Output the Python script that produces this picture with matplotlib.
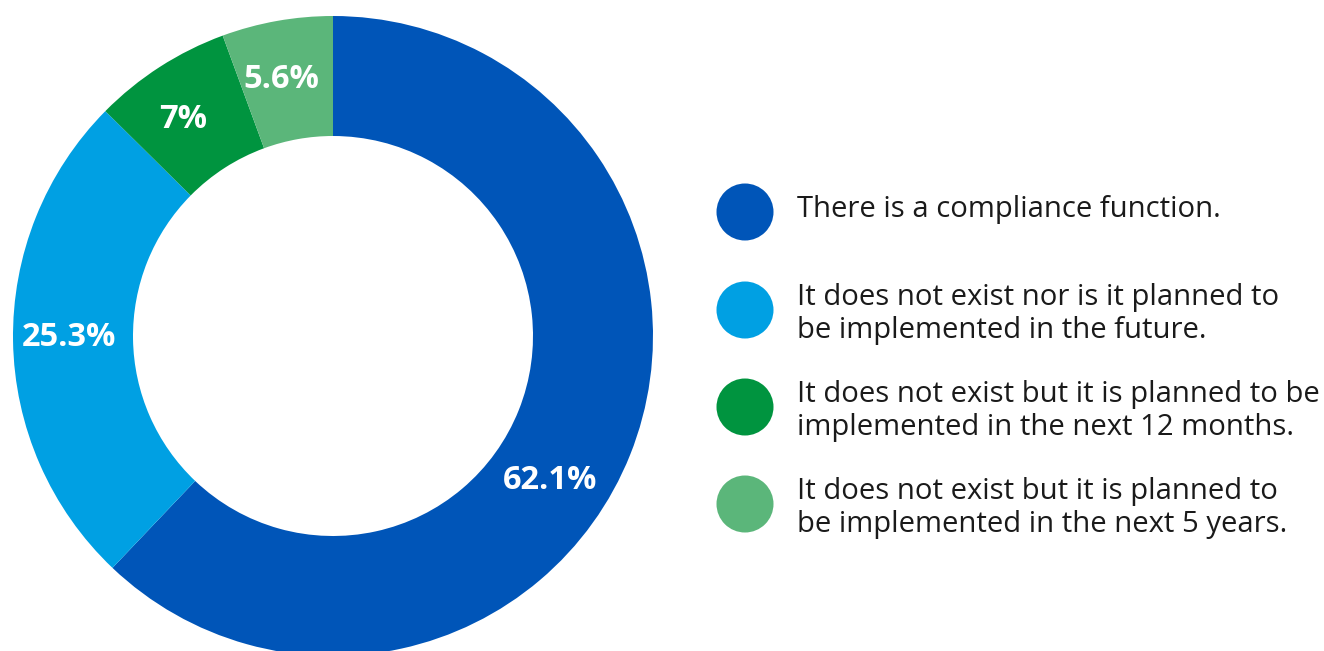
import numpy as np
import matplotlib.pyplot as plt
from matplotlib.patches import Circle

plt.rcParams['font.family'] = ['Open Sans', 'DejaVu Sans']

# data
labels = ['There is a compliance function.',
          'It does not exist nor is it planned to\nbe implemented in the future.',
          'It does not exist but it is planned to be\nimplemented in the next 12 months.',
          'It does not exist but it is planned to\nbe implemented in the next 5 years.']
values = [62.1, 25.3, 7.0, 5.6]
pct_text = ['62.1%', '25.3%', '7%', '5.6%']
colors = ['#0055B8', '#00A0E3', '#00943F', '#5BB67A']

W, H = 1324, 651
fig = plt.figure(figsize=(W / 100, H / 100), dpi=100)

# donut axes: centre (333, 336) px, outer radius 320 px
cx, cy, R = 333, 336, 320
ax = fig.add_axes([(cx - R) / W, (H - cy - R) / H, 2 * R / W, 2 * R / H])
wedges, _ = ax.pie(values, colors=colors, startangle=90, counterclock=False,
                   radius=1, wedgeprops=dict(width=0.375, linewidth=0))
ax.set_xlim(-1, 1)
ax.set_ylim(-1, 1)
ax.set_aspect('equal')
ax.axis('off')

# percentage labels (angle shift from wedge middle, radius)
shift = [-11.2, -1.2, 1.6, 1.2]
rad = [0.81, 0.825, 0.83, 0.827]
for i, w in enumerate(wedges):
    ang = np.radians((w.theta1 + w.theta2) / 2 + shift[i])
    ax.text(rad[i] * np.cos(ang), rad[i] * np.sin(ang) - 0.01, pct_text[i],
            ha='center', va='center', color='white',
            fontsize=23.5, fontweight='bold')

# legend drawn in pixel coordinates
lax = fig.add_axes([0, 0, 1, 1])
lax.set_xlim(0, W)
lax.set_ylim(H, 0)
lax.axis('off')
rows_y = [212, 310, 407, 504]
for i in range(len(labels)):
    lax.add_patch(Circle((745, rows_y[i]), 28.5, color=colors[i], linewidth=0))
    dy = -3 if '\n' not in labels[i] else 4
    lax.text(797, rows_y[i] + dy, labels[i], ha='left', va='center',
             fontsize=21.1, color='#1a1a1a', linespacing=1.2)

fig.savefig('out.png', dpi=100)
